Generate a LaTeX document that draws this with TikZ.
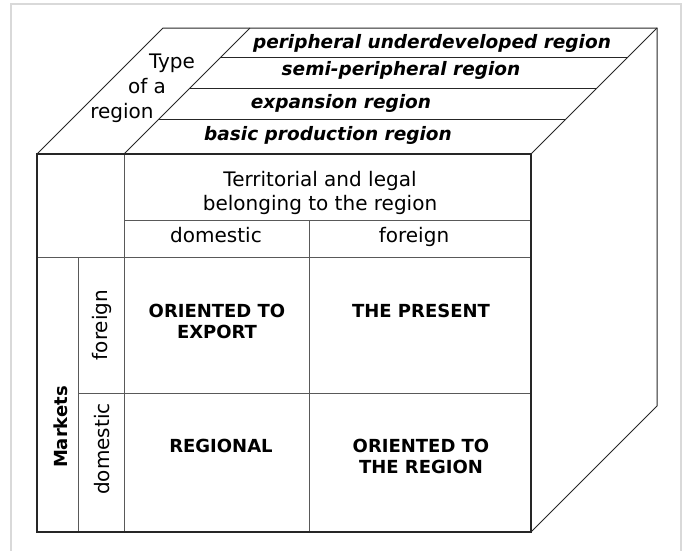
\documentclass[tikz,border=0pt]{standalone}
\usepackage{fontspec}
\setmainfont{DejaVu Sans}[ItalicFont={DejaVu Sans Oblique},BoldFont={DejaVu Sans Bold},BoldItalicFont={DejaVu Sans Bold Oblique}]

\begin{document}
\begin{tikzpicture}[x=1pt,y=-1pt,
                    outer line/.style={line width=1.5pt,draw=black!85},
                    face line/.style={line width=1pt,draw=black!85},
                    grid line/.style={line width=0.8pt,draw=black!65},
                    band/.style={font=\fontsize{18.5}{22}\selectfont\bfseries\itshape,inner sep=0pt,anchor=base},
                    head/.style={font=\fontsize{20}{24}\selectfont,inner sep=0pt,align=center},
                    cell/.style={font=\fontsize{18}{21}\selectfont\bfseries,inner sep=0pt,align=center}]
  \useasboundingbox (0,0) rectangle (687,550);
  % frame
  \draw[line width=2pt,black!15] (11,560) -- (11,4) -- (681,4) -- (681,560);
  % corners of the cube
  \coordinate (ftl) at (37,154);
  \coordinate (ftm) at (124,154);
  \coordinate (ftr) at (531,154);
  \coordinate (fbr) at (531,532);
  \coordinate (fbl) at (37,532);
  \coordinate (btl) at (163,28);
  \coordinate (btm) at (250,28);
  \coordinate (btr) at (657,28);
  \coordinate (bbr) at (657,406);
  % top and side faces
  \draw[face line] (ftl) -- (btl) -- (btr) -- (bbr) -- (fbr);
  \draw[face line] (ftr) -- (btr);
  \draw[face line] (ftm) -- (btm);
  \foreach \d in {35,66,97}
    \draw[face line] ([shift={(\d,-\d)}]ftm) -- ([shift={(\d,-\d)}]ftr);
  % front face
  \draw[grid line] (124,154) -- (124,532);
  \draw[grid line] (78,257) -- (78,532);
  \draw[grid line] (309,220) -- (309,532);
  \draw[grid line] (124,220) -- (531,220);
  \draw[grid line] (37,257) -- (531,257);
  \draw[grid line] (78,393) -- (531,393);
  \draw[outer line] (ftl) -- (ftr) -- (fbr) -- (fbl) -- cycle;
  % top face labels
  \node[head,anchor=base] (type1) at (172,68) {Type};
  \node[head,anchor=base] (type2) at (147,93) {of a};
  \node[head,anchor=base] (type3) at (122,118) {region};
  \node[band] (peri) at (432,48) {peripheral underdeveloped region};
  \node[band] (semi) at (401,75) {semi-peripheral region};
  \node[band] (expa) at (341,108) {expansion region};
  \node[band] (basic) at (328,140) {basic production region};
  % front face labels
  \node[head] (terr) at (320,193) {Territorial and legal\\belonging to the region};
  \node[head,anchor=base] (tdom) at (216,242) {domestic};
  \node[head,anchor=base] (tfor) at (414,242) {foreign};
  \node[cell,rotate=90] (mark) at (61,427) {Markets};
  \node[head,rotate=90] (mfor) at (102,325) {foreign};
  \node[head,rotate=90] (mdom) at (102,449) {domestic};
  \node[cell] (export) at (217,321) {ORIENTED TO\\EXPORT};
  \node[cell,anchor=base] (present) at (421,317) {THE PRESENT};
  \node[cell,anchor=base] (regional) at (221,452) {REGIONAL};
  \node[cell] (toregion) at (421,456) {ORIENTED TO\\THE REGION};
\end{tikzpicture}
\end{document}
